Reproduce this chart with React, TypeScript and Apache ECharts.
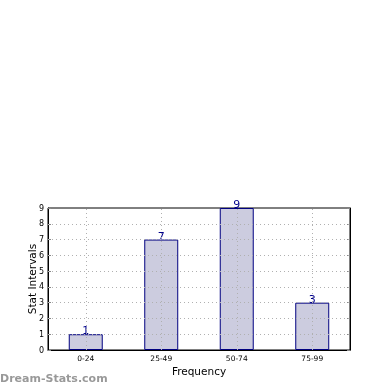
import React, { useEffect, useRef } from "react";
import * as echarts from "echarts";

const categories = ["0-24", "25-49", "50-74", "75-99"];
const values = [1, 7, 9, 3];
const yTicks = [1, 2, 3, 4, 5, 6, 7, 8];

export default function App() {
  const ref = useRef<HTMLDivElement>(null);
  useEffect(() => {
    const chart = echarts.init(ref.current!, null, { renderer: "svg" });
    const gridLine = { color: "#b0b0b0", type: [1, 3] as any, width: 1 };
    chart.setOption({
      animation: false,
      textStyle: { fontFamily: "DejaVu Sans" },
      grid: {
        left: 48, top: 208, width: 302, height: 142,
        show: true, borderColor: "#000", borderWidth: 1, backgroundColor: "transparent",
      },
      xAxis: {
        type: "category",
        data: categories,
        name: "Frequency",
        nameLocation: "middle",
        nameGap: 15,
        nameMoveOverlap: false,
        nameTextStyle: { fontSize: 10.5, color: "#000" },
        axisLine: { lineStyle: { color: "#000" } },
        axisTick: { alignWithLabel: true, inside: true, length: 4, lineStyle: { color: "#888" } },
        axisLabel: { fontSize: 7.5, color: "#000", margin: 4 },
        splitLine: { show: false },
      },
      yAxis: [
        {
          type: "value",
          min: 0, max: 9, interval: 1,
          name: "Stat Intervals",
          nameLocation: "middle",
          nameGap: 11,
          nameMoveOverlap: false,
          nameTextStyle: { fontSize: 10.5, color: "#000" },
          axisLine: { show: true, lineStyle: { color: "#000" } },
          axisTick: { show: true, inside: true, length: 3, lineStyle: { color: "#888" } },
          axisLabel: { fontSize: 8, color: "#000", margin: 4 },
          splitLine: { show: false },
        },
        {
          type: "value",
          position: "right",
          min: 0, max: 9, interval: 1,
          axisLine: { show: true, lineStyle: { color: "#000" } },
          axisTick: { show: true, inside: true, length: 3, lineStyle: { color: "#888" } },
          axisLabel: { show: false },
          splitLine: { show: false },
        },
      ],
      series: [
        {
          type: "bar",
          data: values,
          barWidth: "45%",
          itemStyle: { color: "#ccccdf", borderColor: "#000080", borderWidth: 1 },
          label: {
            show: true, position: "top", distance: -2,
            fontSize: 11, color: "#00008b",
          },
          markLine: {
            silent: true,
            symbol: "none",
            label: { show: false },
            lineStyle: gridLine,
            data: [
              ...yTicks.map((v) => ({ yAxis: v })),
              ...categories.map((c) => ({ xAxis: c })),
            ],
          },
        },
      ],
      graphic: [
        {
          type: "text",
          left: 0, top: 373,
          style: { text: "Dream-Stats.com", fill: "#999", font: "bold 11px DejaVu Sans" },
        },
      ],
    });
    return () => chart.dispose();
  }, []);
  return <div ref={ref} style={{ position: "fixed", left: 0, top: 0, width: 390, height: 390 }} />;
}
